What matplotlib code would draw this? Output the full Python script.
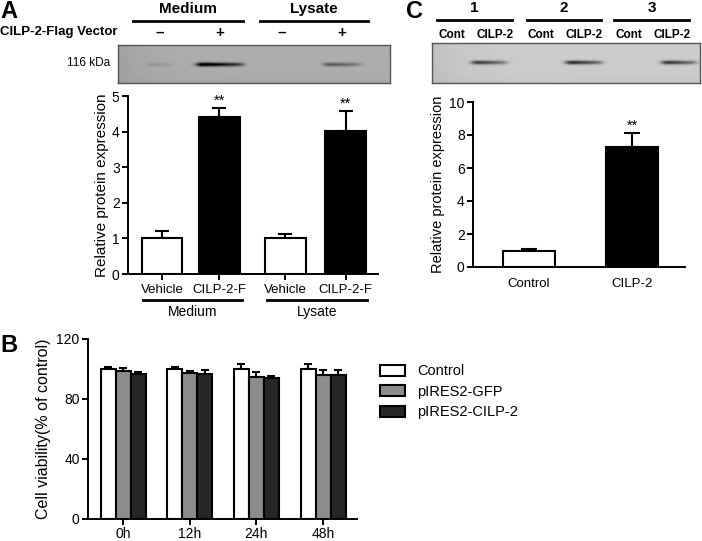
import numpy as np
import matplotlib
matplotlib.use("Agg")
from matplotlib import pyplot as plt
from matplotlib.lines import Line2D
from matplotlib.transforms import blended_transform_factory

plt.rcParams["font.family"] = ["Liberation Sans", "DejaVu Sans"]

W, H = 702, 541

# ---- panel A data
a_labels = ["Vehicle", "CILP-2-F", "Vehicle", "CILP-2-F"]
a_groups = ["Medium", "Lysate"]
a_values = [1.0, 4.4, 1.0, 4.03]
a_errors = [0.2, 0.27, 0.12, 0.55]
a_signif = ["", "**", "", "**"]
a_signs = ["\u2013", "+", "\u2013", "+"]
a_band = [0.12, 1.0, 0.0, 0.45]

# ---- panel C data
c_labels = ["Control", "CILP-2"]
c_values = [1.0, 7.25]
c_errors = [0.08, 0.89]
c_signif = ["", "**"]
c_groups = ["1", "2", "3"]
c_lanes = ["Cont", "CILP-2", "Cont", "CILP-2", "Cont", "CILP-2"]
c_band = [0.75, 0.85, 0.8]

# ---- panel B data
b_times = ["0h", "12h", "24h", "48h"]
b_series = ["Control", "pIRES2-GFP", "pIRES2-CILP-2"]
b_control = [100, 100, 100, 100]
b_gfp = [98.5, 97.5, 95, 96]
b_cilp = [97, 97, 94, 96]
b_control_err = [1.5, 1.5, 3.5, 3.5]
b_gfp_err = [2, 1.5, 2.7, 3.3]
b_cilp_err = [1.2, 2.5, 1.4, 3.3]


fig = plt.figure(figsize=(W / 100, H / 100), dpi=100)


def add_axes_px(left, top, right, bottom):
    return fig.add_axes([left / W, 1 - bottom / H, (right - left) / W, (bottom - top) / H])


def fig_text(x, y, s, **kw):
    fig.text(x / W, 1 - y / H, s, **kw)


def fig_line(x0, x1, y, lw=2.0):
    fig.add_artist(Line2D([x0 / W, x1 / W], [1 - y / H, 1 - y / H], color="black", lw=lw))


def style_axes(ax):
    for side in ["top", "right"]:
        ax.spines[side].set_visible(False)
    for side in ["left", "bottom"]:
        ax.spines[side].set_linewidth(1.4)
    ax.tick_params(direction="out", length=4, width=1.4, labelsize=10, pad=2)


def blot(ax, width, height, bg, centers, halfwidths, strengths, cy):
    yy, xx = np.mgrid[0:height, 0:width].astype(float)
    img = bg - 0.05 * np.exp(-xx / 30.0) - 0.03 * np.exp(-(height - yy) / 6.0)
    for cx, hw, s in zip(centers, halfwidths, strengths):
        prof_x = 1 / (1 + np.exp(-(xx - (cx - hw)) / 2.0)) * 1 / (1 + np.exp((xx - (cx + hw)) / 2.0))
        prof_x = prof_x * (1.0 + 0.35 * np.clip((cx - xx) / hw, -1, 1))
        prof_y = np.exp(-((yy - cy) / 2.0) ** 2)
        img = img - 0.62 * s * prof_x * prof_y
    ax.imshow(np.clip(img, 0, 1), cmap="gray", vmin=0, vmax=1, aspect="auto", interpolation="bilinear")
    ax.set_xticks([])
    ax.set_yticks([])
    for sp in ax.spines.values():
        sp.set_linewidth(1.0)
        sp.set_color("#555555")


# =================== panel A
fig_text(0, 0, "A", fontsize=17, fontweight="bold", va="top", ha="left")
for name, x0, x1 in zip(a_groups, [133, 260], [243, 368]):
    fig_text((x0 + x1) / 2, 9, name, fontsize=11, fontweight="bold", ha="center", va="center")
    fig_line(x0, x1, 21)
fig_text(0, 32, "CILP-2-Flag Vector", fontsize=9.5, fontweight="bold", ha="left", va="center")
lane_a = [160, 220, 282, 342]
for x, s in zip(lane_a, a_signs):
    fig_text(x, 33, s, fontsize=11, fontweight="bold", ha="center", va="center")
fig_text(110, 63, "116 kDa", fontsize=8.5, ha="right", va="center")

ax_ba = add_axes_px(118, 45, 390, 83)
blot(ax_ba, 272, 38, 0.68, [x - 118 for x in lane_a], [12, 23, 12, 18], a_band, 19)

ax_a = add_axes_px(128, 96, 378, 274)
pos_a = [0, 1, 2.15, 3.2]
ax_a.bar(pos_a, a_values, width=0.71, color=["white", "black", "white", "black"],
         edgecolor="black", linewidth=1.5, zorder=2)
ax_a.errorbar(pos_a, a_values, yerr=[[0] * 4, a_errors], fmt="none", ecolor="black",
              elinewidth=1.5, capsize=5, capthick=1.5, zorder=1)
for x, v, e, t in zip(pos_a, a_values, a_errors, a_signif):
    ax_a.text(x, v + e + 0.0, t, ha="center", va="bottom", fontsize=10.5)
ax_a.set_xlim(-0.59, 3.76)
ax_a.set_ylim(0, 5)
ax_a.set_yticks(range(6))
ax_a.set_xticks(pos_a)
ax_a.set_xticklabels(a_labels)
style_axes(ax_a)
ax_a.tick_params(axis="x", labelsize=9.5, pad=3)
ax_a.set_ylabel("Relative protein expression", fontsize=11, labelpad=2)
trans = blended_transform_factory(ax_a.transData, ax_a.transAxes)
for name, x0, x1 in zip(a_groups, [pos_a[0] - 0.33, pos_a[2] - 0.32], [pos_a[1] + 0.39, pos_a[3] + 0.37]):
    ax_a.add_line(Line2D([x0, x1], [-0.146, -0.146], color="black", lw=2, transform=trans, clip_on=False))
    ax_a.text((x0 + x1) / 2, -0.215, name, transform=trans, ha="center", va="center", fontsize=10)

# =================== panel C
fig_text(406, 0, "C", fontsize=17, fontweight="bold", va="top", ha="left")
for name, x0, x1 in zip(c_groups, [437, 527, 614], [512, 601, 689]):
    fig_text((x0 + x1) / 2, 8, name, fontsize=11, fontweight="bold", ha="center", va="center")
    fig_line(x0, x1, 20)
for x, s in zip([452, 495, 541, 584, 629, 672], c_lanes):
    fig_text(x, 35, s, fontsize=8.5, fontweight="bold", ha="center", va="center")

ax_bc = add_axes_px(432, 43, 700, 83)
blot(ax_bc, 268, 40, 0.80, [x - 432 for x in [489, 584, 679]], [17, 18, 17], c_band, 19)

ax_c = add_axes_px(473, 102, 685, 267)
pos_c = [0, 1]
ax_c.bar(pos_c, c_values, width=0.5, color=["white", "black"], edgecolor="black",
         linewidth=1.5, zorder=2)
ax_c.errorbar(pos_c, c_values, yerr=[[0] * 2, c_errors], fmt="none", ecolor="black",
              elinewidth=1.5, capsize=6, capthick=1.5, zorder=1)
for x, v, e, t in zip(pos_c, c_values, c_errors, c_signif):
    ax_c.text(x, v + e + 0.0, t, ha="center", va="bottom", fontsize=10.5)
ax_c.set_xlim(-0.54, 1.51)
ax_c.set_ylim(0, 10)
ax_c.set_yticks(range(0, 11, 2))
ax_c.set_xticks(pos_c)
ax_c.set_xticklabels(c_labels)
style_axes(ax_c)
ax_c.tick_params(axis="x", length=0, pad=8, labelsize=9.5)
ax_c.set_ylabel("Relative protein expression", fontsize=10.5, labelpad=3)

# =================== panel B
fig_text(0, 334, "B", fontsize=17, fontweight="bold", va="top", ha="left")
ax_b = add_axes_px(88, 339, 357, 519)
pos_b = np.arange(len(b_times))
bw = 0.225
b_colors = ["white", "#8c8c8c", "#262626"]
for i, (vals, errs, col, name) in enumerate(zip([b_control, b_gfp, b_cilp],
                                                [b_control_err, b_gfp_err, b_cilp_err],
                                                b_colors, b_series)):
    xs = pos_b + (i - 1) * bw
    ax_b.bar(xs, vals, width=bw, color=col, edgecolor="black", linewidth=1.5, zorder=2, label=name)
    ax_b.errorbar(xs, vals, yerr=[[0] * 4, errs], fmt="none", ecolor="black",
                  elinewidth=1.5, capsize=3, capthick=1.5, zorder=1)
ax_b.set_xlim(-0.525, 3.51)
ax_b.set_ylim(0, 120)
ax_b.set_yticks([0, 40, 80, 120])
ax_b.set_xticks(pos_b)
ax_b.set_xticklabels(b_times)
style_axes(ax_b)
ax_b.tick_params(axis="x", length=4, pad=2)
ax_b.set_ylabel("Cell viability(% of control)", fontsize=11.5, labelpad=4)
ax_b.legend(loc="upper left", bbox_to_anchor=(373 / W, 1 - 357 / H), bbox_transform=fig.transFigure,
            frameon=False, fontsize=10.5, handlelength=1.7, handleheight=0.8, labelspacing=0.45,
            handletextpad=0.8, borderpad=0)

fig.savefig("out.png", dpi=100)
